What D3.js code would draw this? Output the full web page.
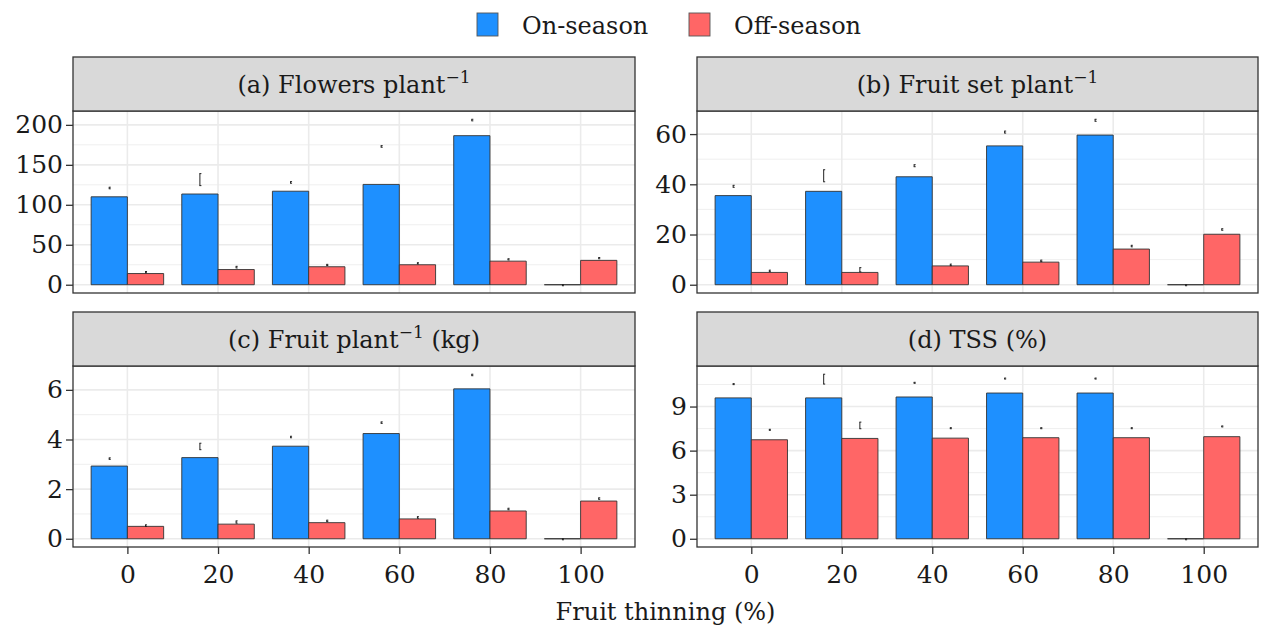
<!DOCTYPE html>
<html>
<head>
<meta charset="utf-8">
<script src="https://cdn.jsdelivr.net/npm/d3@7"></script>
<style>
body { margin: 0; background: #fff; }
text { font-family: "DejaVu Serif", serif; fill: #1a1a1a; }
</style>
</head>
<body>
<script>
const width = 1261
const height = 630

// categories and series
const thinning = ['0', '20', '40', '60', '80', '100']
const seasons = ['On-season', 'Off-season']
const seasonColors = ['#1E90FF', '#FF6666']

// (a) flowers per plant
const flowersOn = [110, 113.5, 117, 125.5, 186.5, 0]
const flowersOff = [14, 19, 22.5, 25, 29.5, 30.5]
const flowersOnErr = [[120, 122], [124, 139], [127, 129], [172, 174], [205, 207], [0, 0]]
const flowersOffErr = [[15, 16.5], [21, 23], [24, 25.5], [26, 27.5], [31, 32.5], [32.5, 34]]
const flowersTicks = [0, 50, 100, 150, 200]

// (b) fruit set per plant
const setOn = [35.5, 37.2, 43, 55.3, 59.6, 0]
const setOff = [4.9, 4.9, 7.5, 9, 14.2, 20.1]
const setOnErr = [[38.8, 39.6], [41, 45.8], [47, 47.8], [60.4, 61.2], [65.1, 65.9], [0, 0]]
const setOffErr = [[5.2, 5.8], [5.1, 6.8], [7.6, 8.2], [9.2, 9.8], [15.1, 15.7], [21.7, 22.3]]
const setTicks = [0, 20, 40, 60]

// (c) fruit per plant (kg)
const kgOn = [2.93, 3.27, 3.73, 4.24, 6.04, 0]
const kgOff = [0.5, 0.59, 0.65, 0.8, 1.12, 1.52]
const kgOnErr = [[3.2, 3.26], [3.59, 3.85], [4.07, 4.13], [4.65, 4.71], [6.57, 6.63], [0, 0]]
const kgOffErr = [[0.5, 0.56], [0.63, 0.72], [0.69, 0.75], [0.83, 0.89], [1.17, 1.23], [1.59, 1.65]]
const kgTicks = [0, 2, 4, 6]

// (d) TSS (%)
const tssOn = [9.59, 9.59, 9.65, 9.92, 9.92, 0]
const tssOff = [6.74, 6.83, 6.85, 6.88, 6.88, 6.95]
const tssOnErr = [[10.5, 10.56], [10.53, 11.2], [10.59, 10.65], [10.88, 10.94], [10.88, 10.94], [0, 0]]
const tssOffErr = [[7.39, 7.45], [7.49, 7.94], [7.5, 7.56], [7.5, 7.56], [7.5, 7.56], [7.62, 7.68]]
const tssTicks = [0, 3, 6, 9]

const panels = [
    {title: '(a) Flowers plant', sup: '−1', tail: '', on: flowersOn, off: flowersOff, onErr: flowersOnErr, offErr: flowersOffErr, ticks: flowersTicks, col: 0, row: 0},
    {title: '(b) Fruit set plant', sup: '−1', tail: '', on: setOn, off: setOff, onErr: setOnErr, offErr: setOffErr, ticks: setTicks, col: 1, row: 0},
    {title: '(c) Fruit plant', sup: '−1', tail: ' (kg)', on: kgOn, off: kgOff, onErr: kgOnErr, offErr: kgOffErr, ticks: kgTicks, col: 0, row: 1},
    {title: '(d) TSS (%)', sup: '', tail: '', on: tssOn, off: tssOff, onErr: tssOnErr, offErr: tssOffErr, ticks: tssTicks, col: 1, row: 1}
]

// layout
const colX = [[73, 635], [697, 1258]]
const rowY = [{strip: 57, top: 111, bottom: 293}, {strip: 312, top: 366, bottom: 547}]

const svg = d3.select('body').append('svg')
    .attr('width', width)
    .attr('height', height)

const fontSize = 24
const tickFont = 25

panels.forEach(p => {
    const [x0, x1] = colX[p.col]
    const r = rowY[p.row]
    const g = svg.append('g')

    // discrete x scale with ggplot style 0.6 expansion
    const n = thinning.length
    const step = (x1 - x0) / (n - 1 + 1.2)
    const x = d3.scalePoint().domain(thinning).range([x0 + 0.6 * step, x1 - 0.6 * step])
    const barW = 0.4 * step

    const maxV = d3.max([...p.on, ...p.off, ...p.onErr.map(d => d[1]), ...p.offErr.map(d => d[1])])
    const y = d3.scaleLinear().domain([-0.05 * maxV, 1.05 * maxV]).range([r.bottom, r.top])

    // background + grid
    g.append('rect').attr('x', x0).attr('y', r.top).attr('width', x1 - x0).attr('height', r.bottom - r.top).attr('fill', '#fff')
    const step2 = p.ticks[1] - p.ticks[0]
    const minor = d3.range(p.ticks[0] - step2 / 2, y.domain()[1], step2).filter(v => v > y.domain()[0])
    g.selectAll('.minor').data(minor).join('line')
        .attr('x1', x0).attr('x2', x1).attr('y1', d => y(d)).attr('y2', d => y(d))
        .attr('stroke', '#ebebeb').attr('stroke-width', 0.8)
    g.selectAll('.major').data(p.ticks).join('line')
        .attr('x1', x0).attr('x2', x1).attr('y1', d => y(d)).attr('y2', d => y(d))
        .attr('stroke', '#ebebeb').attr('stroke-width', 1.6)
    g.selectAll('.vmajor').data(thinning).join('line')
        .attr('x1', d => x(d)).attr('x2', d => x(d)).attr('y1', r.top).attr('y2', r.bottom)
        .attr('stroke', '#ebebeb').attr('stroke-width', 1.6)

    // bars
    const bars = []
    thinning.forEach((c, i) => {
        bars.push({c, s: 0, v: p.on[i], e: p.onErr[i]})
        bars.push({c, s: 1, v: p.off[i], e: p.offErr[i]})
    })
    g.selectAll('path.bar').data(bars).join('path')
        .attr('class', 'bar')
        .attr('d', d => {
            const bx = x(d.c) - barW + d.s * barW
            return `M${bx},${y(0)}H${bx + barW}V${y(d.v)}H${bx}Z`
        })
        .attr('fill', d => seasonColors[d.s])
        .attr('stroke', '#333')
        .attr('stroke-width', 0.9)

    // error bars (narrow)
    const eb = g.selectAll('g.err').data(bars).join('g').attr('class', 'err')
        .attr('stroke', '#222').attr('stroke-width', 1).attr('fill', 'none')
    eb.append('path').attr('d', d => {
        const cx = x(d.c) - barW / 2 + d.s * barW
        const lo = y(d.e[0]), hi = y(d.e[1])
        const lo2 = Math.max(lo, hi + 1)
        return `M${cx + 1.5},${hi}H${cx - 0.5}M${cx},${hi}V${lo2}M${cx + 1.5},${lo2}H${cx - 0.5}`
    })

    // panel border
    g.append('rect').attr('x', x0).attr('y', r.top).attr('width', x1 - x0).attr('height', r.bottom - r.top)
        .attr('fill', 'none').attr('stroke', '#333').attr('stroke-width', 1.3)

    // strip
    g.append('rect').attr('x', x0).attr('y', r.strip).attr('width', x1 - x0).attr('height', r.top - r.strip)
        .attr('fill', '#d9d9d9').attr('stroke', '#333').attr('stroke-width', 1.3)
    const st = g.append('text')
        .attr('x', (x0 + x1) / 2).attr('y', (r.strip + r.top) / 2 + 8.5)
        .attr('text-anchor', 'middle').attr('font-size', fontSize)
        .style('fill', '#1a1a1a')
    st.append('tspan').text(p.title)
    if (p.sup) {
        st.append('tspan').text(p.sup).attr('font-size', 17).attr('dy', -10)
        if (p.tail) st.append('tspan').text(p.tail).attr('dy', 10)
    }

    // y axis
    const yAxis = g.append('g').attr('transform', `translate(${x0},0)`)
        .call(d3.axisLeft(y).tickValues(p.ticks).tickSize(7).tickPadding(3).tickFormat(d3.format('d')))
    yAxis.select('.domain').remove()
    yAxis.selectAll('line').attr('stroke', '#333').attr('stroke-width', 1.3)
    yAxis.selectAll('text').attr('font-size', tickFont).attr('font-family', 'DejaVu Serif').style('fill', '#1a1a1a')

    // x axis on bottom row
    if (p.row === 1) {
        const xAxis = g.append('g').attr('transform', `translate(0,${r.bottom})`)
            .call(d3.axisBottom(x).tickSize(7).tickPadding(11))
        xAxis.select('.domain').remove()
        xAxis.selectAll('line').attr('stroke', '#333').attr('stroke-width', 1.3)
        xAxis.selectAll('text').attr('font-size', tickFont).attr('font-family', 'DejaVu Serif').style('fill', '#1a1a1a')
    }
})

// x axis title
svg.append('text')
    .attr('x', (colX[0][0] + colX[1][1]) / 2).attr('y', 620)
    .attr('text-anchor', 'middle').attr('font-size', fontSize)
    .text('Fruit thinning (%)')

// legend
const legendX = [477, 689]
seasons.forEach((s, i) => {
    svg.append('rect').attr('x', legendX[i]).attr('y', 13).attr('width', 21).attr('height', 23)
        .attr('fill', seasonColors[i]).attr('stroke', '#555').attr('stroke-width', 0.9)
    svg.append('text').attr('x', legendX[i] + 45).attr('y', 34)
        .attr('font-size', fontSize).text(s)
})
</script>
</body>
</html>
